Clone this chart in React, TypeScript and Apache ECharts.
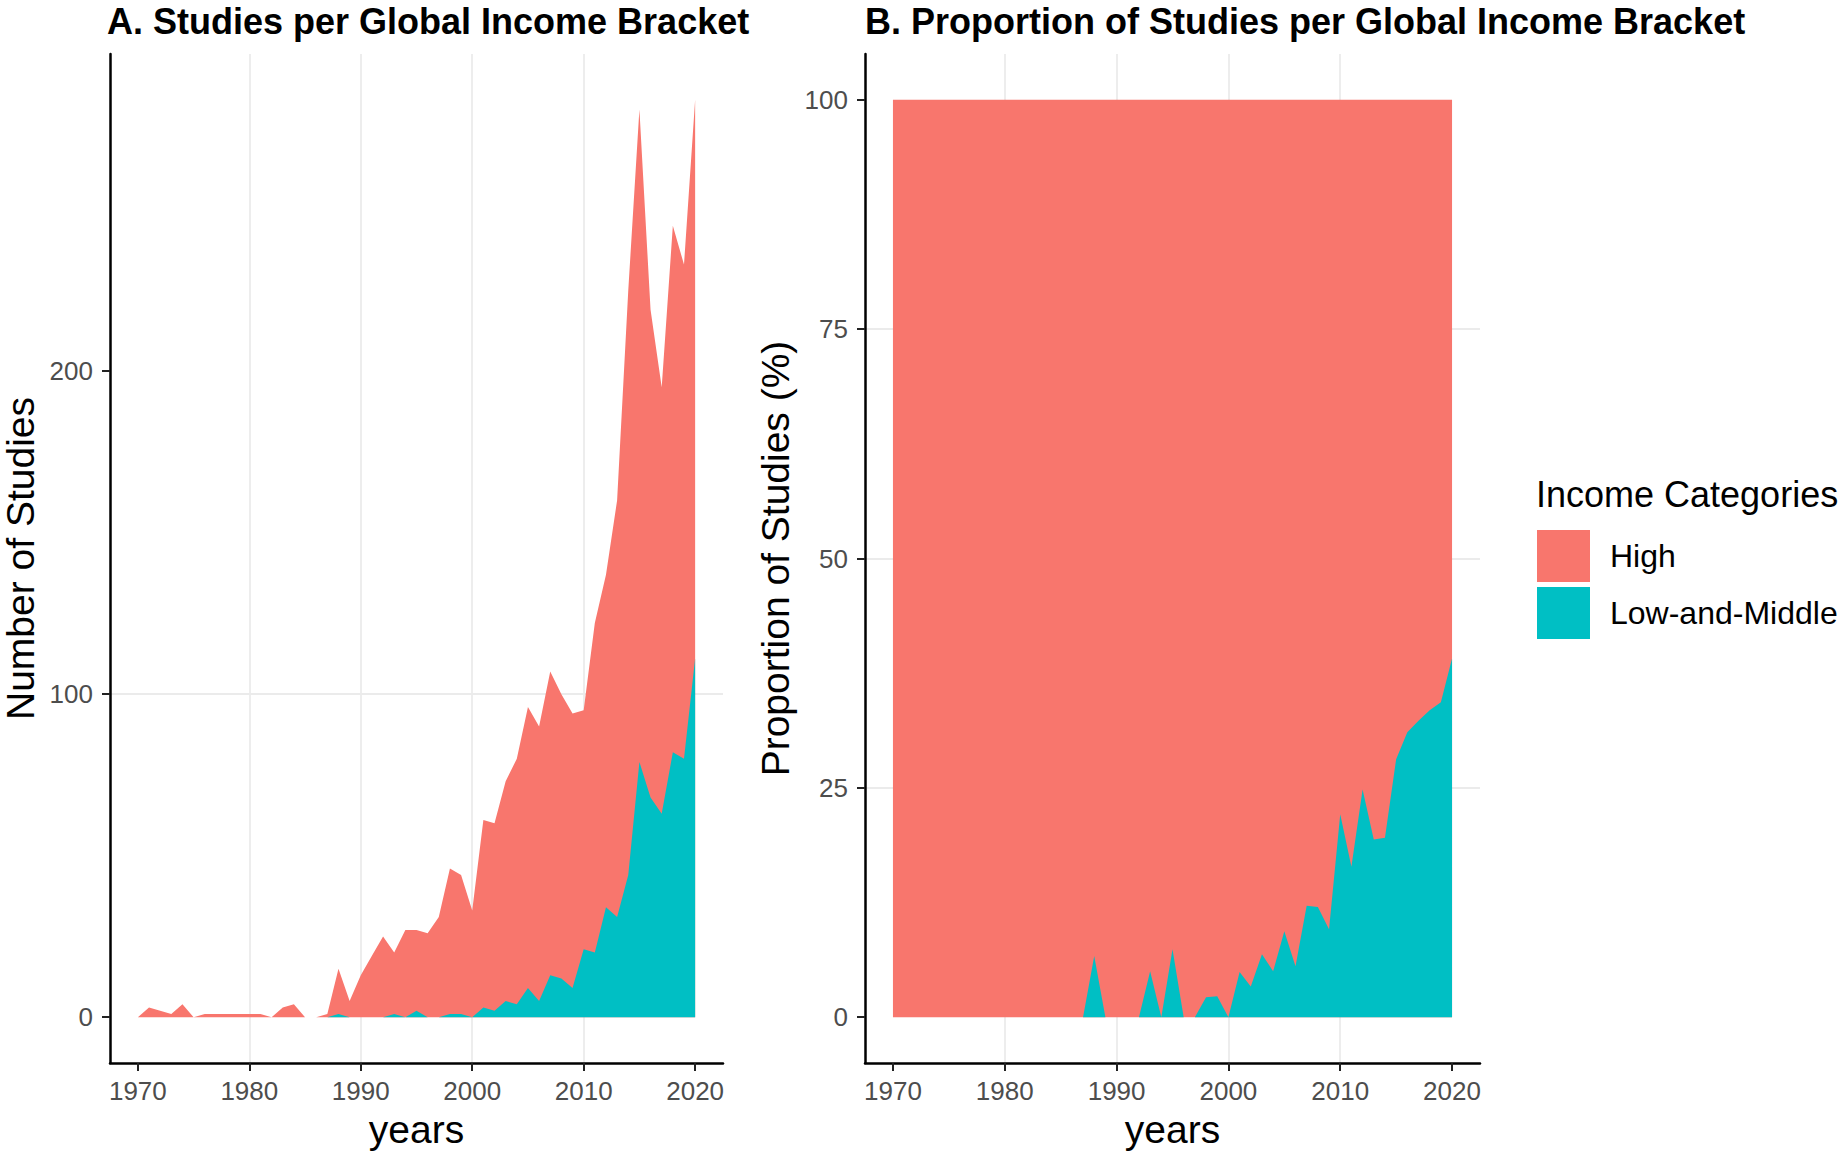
import React, { useEffect, useRef } from 'react';
import * as echarts from 'echarts';

const YEARS = [
  1970, 1971, 1972, 1973, 1974, 1975, 1976, 1977, 1978, 1979,
  1980, 1981, 1982, 1983, 1984, 1985, 1986, 1987, 1988, 1989,
  1990, 1991, 1992, 1993, 1994, 1995, 1996, 1997, 1998, 1999,
  2000, 2001, 2002, 2003, 2004, 2005, 2006, 2007, 2008, 2009,
  2010, 2011, 2012, 2013, 2014, 2015, 2016, 2017, 2018, 2019,
  2020,
];

// Number of studies, high-income countries
const HIGH = [
  0, 3, 2, 1, 4, 0, 1, 1, 1, 1,
  1, 1, 0, 3, 4, 0, 0, 1, 14, 5,
  13, 19, 25, 19, 27, 25, 26, 31, 45, 43,
  33, 58, 58, 68, 76, 87, 85, 94, 88, 85,
  74, 102, 103, 129, 181, 202, 151, 132, 163, 153,
  173,
];

// Number of studies, low-and-middle-income countries
const LMI = [
  0, 0, 0, 0, 0, 0, 0, 0, 0, 0,
  0, 0, 0, 0, 0, 0, 0, 0, 1, 0,
  0, 0, 0, 1, 0, 2, 0, 0, 1, 1,
  0, 3, 2, 5, 4, 9, 5, 13, 12, 9,
  21, 20, 34, 31, 44, 79, 68, 63, 82, 80,
  111,
];

const X_TICKS = [1970, 1980, 1990, 2000, 2010, 2020];
const Y_TICKS_A = [0, 100, 200];
const Y_TICKS_B = [0, 25, 50, 75, 100];
const NAME_HIGH = 'High';
const NAME_LMI = 'Low-and-Middle';
const COLOR_HIGH = '#F8766D';
const COLOR_LMI = '#00BFC4';

const TITLE_A = 'A. Studies per Global Income Bracket';
const TITLE_B = 'B. Proportion of Studies per Global Income Bracket';
const LEGEND_TITLE = 'Income Categories';

const FONT = '"Liberation Sans", Arial, Helvetica, sans-serif';

export default function App() {
  const ref = useRef<HTMLDivElement>(null);

  useEffect(() => {
    if (!ref.current) return;
    const chart = echarts.init(ref.current, null, { renderer: 'svg' });

    // Stacked layout: the High area sits on top of the Low-and-Middle area,
    // so its upper edge is the yearly total.
    const totals = HIGH.map((h, i) => h + LMI[i]);
    const pctLMI = LMI.map((v, i) => (totals[i] ? (v / totals[i]) * 100 : 0));
    const pctTop = totals.map((t, i) => (t ? ((HIGH[i] + LMI[i]) / t) * 100 : 100));
    const pair = (arr: number[]) => YEARS.map((y, i) => [y, arr[i]]);

    const maxTotal = Math.max(...totals);
    const span = YEARS[YEARS.length - 1] - YEARS[0];
    const xMin = YEARS[0] - span * 0.05;
    const xMax = YEARS[YEARS.length - 1] + span * 0.05;

    const xAxis = (gridIndex: number) => ({
      type: 'value',
      gridIndex,
      min: xMin,
      max: xMax,
      name: 'years',
      nameLocation: 'middle',
      nameGap: 47,
      nameTextStyle: { fontSize: 39, color: '#000', fontFamily: FONT },
      axisLine: { show: true, onZero: false, lineStyle: { color: '#000', width: 2.5 } },
      axisTick: { show: true, customValues: X_TICKS, length: 8, lineStyle: { color: '#222', width: 2 } },
      axisLabel: {
        customValues: X_TICKS,
        fontSize: 26,
        color: '#4D4D4D',
        margin: 15,
        fontFamily: FONT,
        formatter: (v: number) => String(v),
      },
      splitLine: { show: true, showMinLine: false, showMaxLine: false, lineStyle: { color: '#EBEBEB', width: 1.8 } },
    });

    const yAxis = (gridIndex: number, name: string, min: number, max: number, ticks: number[]) => ({
      type: 'value',
      gridIndex,
      min,
      max,
      splitNumber: 3,
      name,
      nameLocation: 'middle',
      nameGap: 70,
      nameTextStyle: { fontSize: 39, color: '#000', fontFamily: FONT },
      axisLine: { show: true, onZero: false, lineStyle: { color: '#000', width: 2.5 } },
      axisTick: { show: true, customValues: ticks, length: 8, lineStyle: { color: '#222', width: 2 } },
      axisLabel: {
        customValues: ticks,
        fontSize: 26,
        color: '#4D4D4D',
        margin: 17,
        fontFamily: FONT,
        formatter: (v: number) => String(v),
      },
      splitLine: { show: true, showMinLine: false, showMaxLine: false, lineStyle: { color: '#EBEBEB', width: 1.8 } },
    });

    const area = (name: string, color: string, axisIdx: number, data: number[]) => ({
      name,
      type: 'line',
      xAxisIndex: axisIdx,
      yAxisIndex: axisIdx,
      data: pair(data),
      symbol: 'none',
      showSymbol: false,
      silent: true,
      color,
      itemStyle: { color },
      lineStyle: { width: 0, color },
      areaStyle: { color, opacity: 1, origin: 'auto' },
    });

    chart.setOption({
      animation: false,
      backgroundColor: '#fff',
      textStyle: { fontFamily: FONT },
      title: [
        { text: TITLE_A, left: 107, top: 2, padding: 0, textStyle: { fontSize: 36, lineHeight: 38, fontWeight: 'bold', color: '#000', fontFamily: FONT } },
        { text: TITLE_B, left: 865, top: 2, padding: 0, textStyle: { fontSize: 36, lineHeight: 38, fontWeight: 'bold', color: '#000', fontFamily: FONT } },
        { text: LEGEND_TITLE, left: 1536, top: 476, padding: 0, textStyle: { fontSize: 36, fontWeight: 'normal', color: '#000', fontFamily: FONT } },
      ],
      legend: {
        orient: 'vertical',
        left: 1537,
        top: 530,
        padding: 0,
        itemWidth: 53,
        itemHeight: 52,
        itemGap: 5,
        icon: 'rect',
        data: [NAME_HIGH, NAME_LMI],
        selectedMode: false,
        textStyle: { fontSize: 32, color: '#000', fontFamily: FONT, padding: [0, 0, 0, 15] },
      },
      grid: [
        { left: 107, top: 54, width: 616, height: 1011, containLabel: false },
        { left: 865, top: 54, width: 615, height: 1011, containLabel: false },
      ],
      xAxis: [xAxis(0), xAxis(1)],
      yAxis: [
        yAxis(0, 'Number of Studies', -maxTotal * 0.05, maxTotal * 1.05, Y_TICKS_A),
        yAxis(1, 'Proportion of Studies (%)', -5, 105, Y_TICKS_B),
      ],
      series: [
        area(NAME_HIGH, COLOR_HIGH, 0, totals),
        area(NAME_LMI, COLOR_LMI, 0, LMI),
        area(NAME_HIGH, COLOR_HIGH, 1, pctTop),
        area(NAME_LMI, COLOR_LMI, 1, pctLMI),
      ],
    });

    return () => chart.dispose();
  }, []);

  return (
    <div
      ref={ref}
      style={{ position: 'absolute', left: 0, top: 0, width: 1844, height: 1154, background: '#fff' }}
    />
  );
}
